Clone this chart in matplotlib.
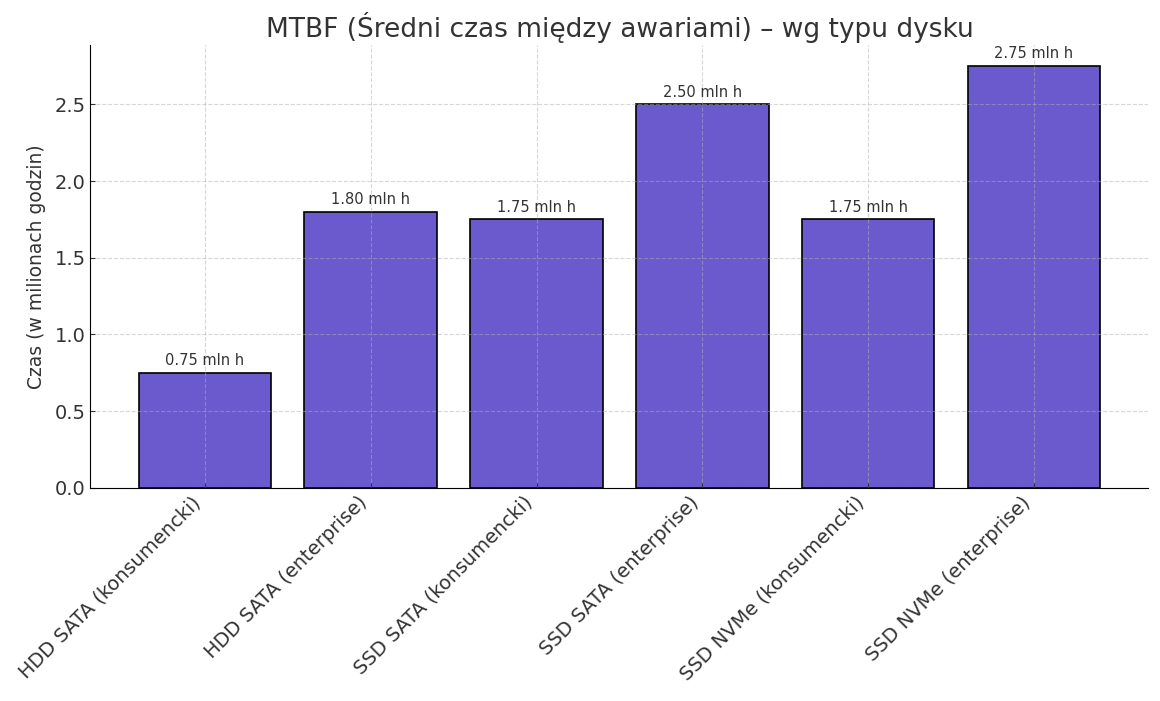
import matplotlib.pyplot as plt

# Typy dysków i ich MTBF (mln godzin)
dyski = ['HDD SATA (konsumencki)', 'HDD SATA (enterprise)', 'SSD SATA (konsumencki)',
         'SSD SATA (enterprise)', 'SSD NVMe (konsumencki)', 'SSD NVMe (enterprise)']
mtbf = [0.75, 1.80, 1.75, 2.50, 1.75, 2.75]

text_color = '#333333'
plt.rcParams['text.color'] = text_color
plt.rcParams['axes.labelcolor'] = text_color
plt.rcParams['xtick.color'] = text_color
plt.rcParams['ytick.color'] = text_color

fig, ax = plt.subplots(figsize=(11.6, 7.01), dpi=100)
bars = ax.bar(dyski, mtbf, color='slateblue', edgecolor='black', linewidth=1.2)

# Etykiety nad słupkami
for bar, val in zip(bars, mtbf):
    ax.text(bar.get_x() + bar.get_width() / 2, val + 0.03, f'{val:.2f} mln h',
            ha='center', va='bottom', fontsize=10.5)

ax.set_title('MTBF (Średni czas między awariami) – wg typu dysku', fontsize=19, pad=6)
ax.set_ylabel('Czas (w milionach godzin)', fontsize=13.5, labelpad=6)
ax.tick_params(axis='y', direction='in', labelsize=14)
ax.tick_params(axis='x', direction='in', labelsize=14)
plt.setp(ax.get_xticklabels(), rotation=45, ha='right')
ax.grid(True, linestyle='--', alpha=0.5)
ax.spines['top'].set_visible(False)
ax.spines['right'].set_visible(False)

fig.subplots_adjust(left=0.078, right=0.99, top=0.936, bottom=0.304)
fig.savefig('out.png')
